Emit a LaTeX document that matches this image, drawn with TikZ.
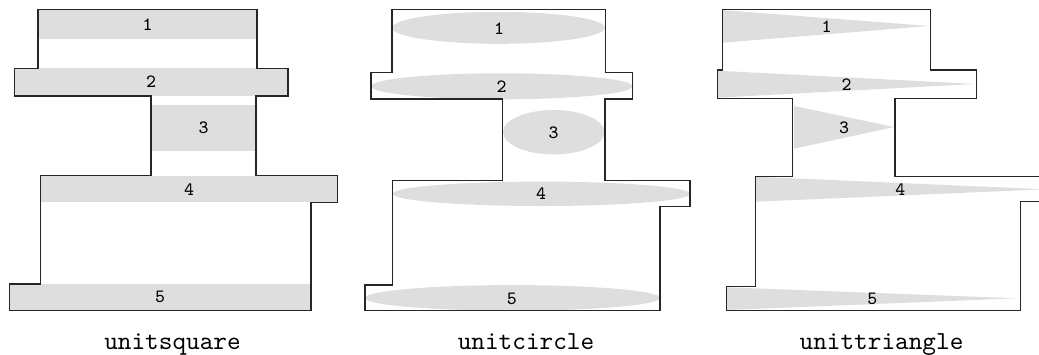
\documentclass[tikz,border=0pt]{standalone}
\begin{document}
\begin{tikzpicture}[x=0.4pt,y=-0.4pt,
  greyfill/.style={fill=black!13,draw=none},
  outline/.style={draw=black!85,line width=0.45pt,line join=miter},
  num/.style={inner sep=0pt,font=\fontsize{7.5}{9}\selectfont\ttfamily},
  captext/.style={inner sep=0pt,anchor=base,font=\fontsize{10.4}{12}\selectfont\ttfamily}]
\useasboundingbox (0,0) rectangle (1039,354);
% ---------- panel 1: unitsquare
\path[greyfill] (38,9.7) rectangle (257,39.3);
\path[greyfill] (14.3,68.3) rectangle (288,96);
\path[greyfill] (151,105) rectangle (256,150.7);
\path[greyfill] (40.7,175.7) rectangle (337.3,202.3);
\path[greyfill] (9.3,284) rectangle (311,310.7);
\path[outline] (38,9.7) -- (38,68.3) -- (14.3,68.3) -- (14.3,96) -- (151,96) -- (151,175.7)
  -- (40.7,175.7) -- (40.7,284) -- (9.3,284) -- (9.3,310.7) -- (311,310.7) -- (311,202.3)
  -- (337.3,202.3) -- (337.3,175.7) -- (256,175.7) -- (256,96) -- (288,96) -- (288,68.3)
  -- (257,68.3) -- (257,9.7) -- cycle;
\node[num] (a1) at (147.5,25) {1};
\node[num] (a2) at (151,82) {2};
\node[num] (a3) at (203.5,128) {3};
\node[num] (a4) at (189,189.5) {4};
\node[num] (a5) at (160,297.3) {5};
\node[captext] (ca) at (172.5,349) {unitsquare};
% ---------- panel 2: unitcircle
\path[greyfill] (498.5,27.8) ellipse [x radius=106.5,y radius=16];
\path[greyfill] (501.7,86.3) ellipse [x radius=130.7,y radius=13];
\path[greyfill] (553.7,132.2) ellipse [x radius=50.7,y radius=22.2];
\path[greyfill] (541.3,193.8) ellipse [x radius=148.7,y radius=12.2];
\path[greyfill] (512.5,297.9) ellipse [x radius=147.5,y radius=12.8];
\path[outline] (392,9.7) -- (392,72.3) -- (371,72.3) -- (371,99) -- (502.3,99) -- (502.3,180.7)
  -- (392.7,180.7) -- (392.7,285) -- (365,285) -- (365,310.7) -- (660,310.7) -- (660,206.7)
  -- (690,206.7) -- (690,180.7) -- (605,180.7) -- (605,99) -- (632.3,99) -- (632.3,72.3)
  -- (605.7,72.3) -- (605.7,9.7) -- cycle;
\node[num] (b1) at (499,28.5) {1};
\node[num] (b2) at (501.5,87) {2};
\node[num] (b3) at (553.5,132.3) {3};
\node[num] (b4) at (541,193.3) {4};
\node[num] (b5) at (511.8,298.8) {5};
\node[captext] (cb) at (526,349) {unitcircle};
% ---------- panel 3: unittriangle
\path[greyfill] (722.3,10) -- (722.3,42.7) -- (929.3,26) -- cycle;
\path[greyfill] (717.3,70.7) -- (717.3,97.7) -- (975.3,84) -- cycle;
\path[greyfill] (794,106) -- (794,148.7) -- (894.3,127) -- cycle;
\path[greyfill] (755.7,176.7) -- (755.7,201.7) -- (1045,189.3) -- cycle;
\path[greyfill] (726.7,287.3) -- (726.7,310) -- (1016.7,298.3) -- cycle;
\path[outline] (722.3,9.7) -- (722.3,70) -- (717.3,70) -- (717.3,98.7) -- (792.7,98.7) -- (792.7,176.3)
  -- (755.7,176.3) -- (755.7,286.7) -- (726.7,286.7) -- (726.7,310.7) -- (1020.3,310.7) -- (1020.3,201.7)
  -- (1045,201.7) -- (1045,176.3) -- (895,176.3) -- (895,98.7) -- (976.3,98.7) -- (976.3,70)
  -- (930.3,70) -- (930.3,9.7) -- cycle;
\node[num] (c1) at (826.5,26.5) {1};
\node[num] (c2) at (846.5,85) {2};
\node[num] (c3) at (844,127.5) {3};
\node[num] (c4) at (900.3,189.5) {4};
\node[num] (c5) at (872.3,298.8) {5};
\node[captext] (cc) at (881.5,349) {unittriangle};
\end{tikzpicture}
\end{document}
